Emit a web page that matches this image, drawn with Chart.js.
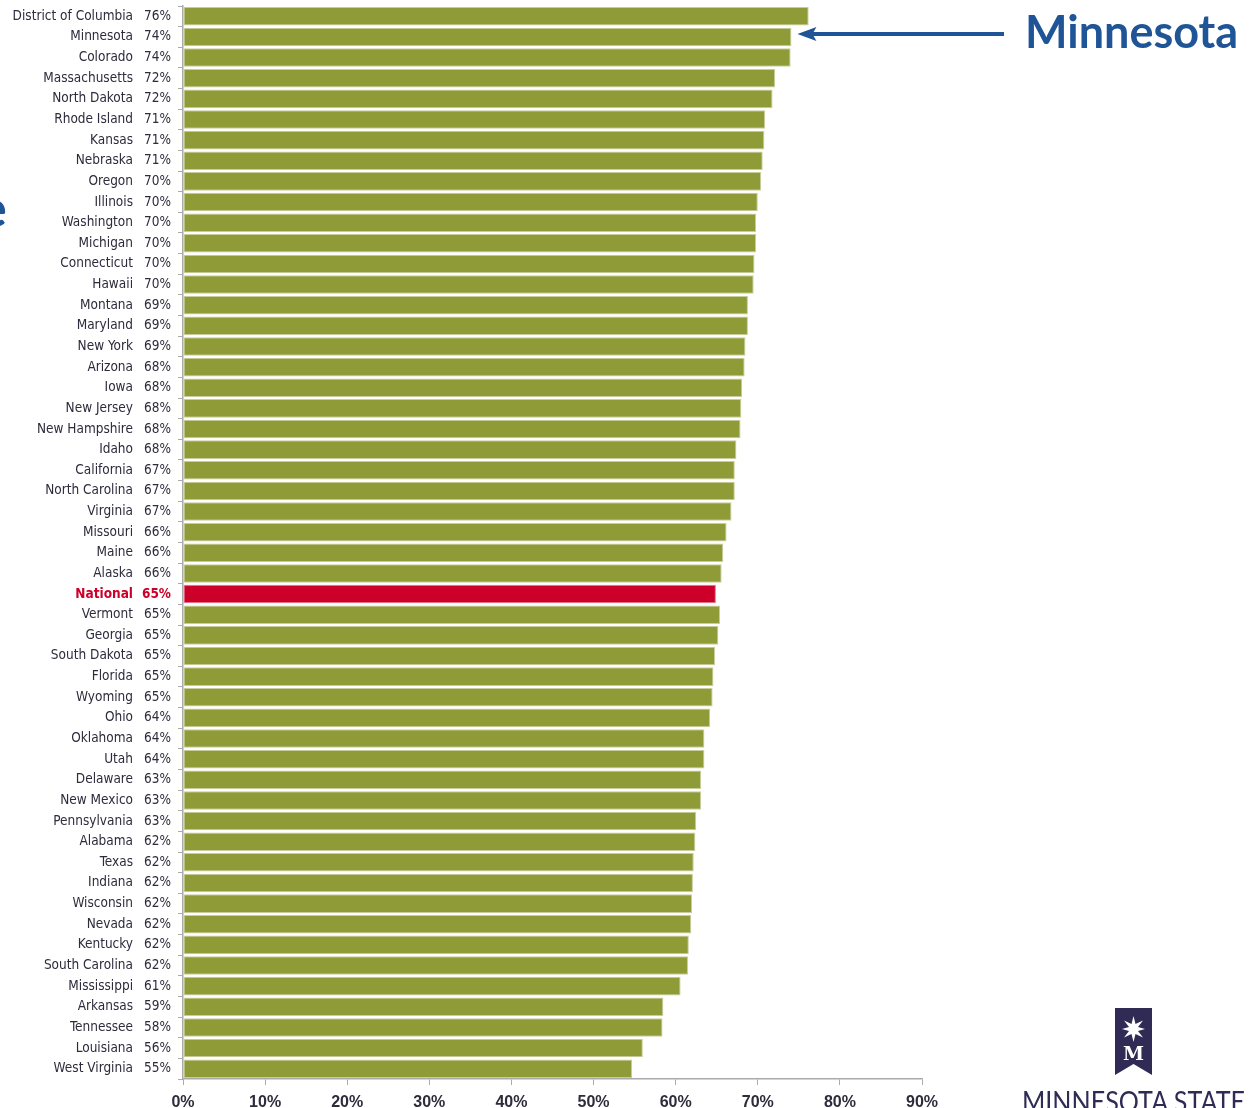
<!DOCTYPE html>
<html>
<head>
<meta charset="utf-8">
<script src="https://cdn.jsdelivr.net/npm/chart.js@4.4.1/dist/chart.umd.min.js"></script>
<style>
  html, body { margin: 0; padding: 0; background: #fff; overflow: hidden; }
  #wrap { position: relative; width: 1253px; height: 1108px; }
  #cut { position: absolute; left: -21px; top: 176px; font: bold 52px Lato, sans-serif; color: #1F5597; }
  #logo { position: absolute; left: 0; top: 0; }
</style>
</head>
<body>
<div id="wrap">
  <canvas id="rateChart"></canvas>
  <div id="cut">e</div>
  <svg id="logo" width="1253" height="1108">
    <polygon points="1115,1008 1152,1008 1152,1075 1133.5,1064 1115,1075" fill="#2f2b55"/>
    <polygon points="1133.5,1016 1135.5,1024 1143,1020.5 1138,1027 1145,1029 1138,1031 1143,1037.5 1135.5,1034 1133.5,1042 1131.5,1034 1124,1037.5 1129,1031 1122,1029 1129,1027 1124,1020.5 1131.5,1024" fill="#fff"/>
    <text x="1133.5" y="1060" text-anchor="middle" font-family="DejaVu Serif, serif" font-size="19" font-weight="bold" fill="#fff">M</text>
    <text x="1022" y="1112" textLength="223" lengthAdjust="spacingAndGlyphs" font-family="Lato, sans-serif" font-size="29" fill="#2f2b55">MINNESOTA STATE</text>
  </svg>
</div>
<script>
const states = ['District of Columbia', 'Minnesota', 'Colorado', 'Massachusetts', 'North Dakota', 'Rhode Island',
  'Kansas', 'Nebraska', 'Oregon', 'Illinois', 'Washington', 'Michigan', 'Connecticut', 'Hawaii', 'Montana',
  'Maryland', 'New York', 'Arizona', 'Iowa', 'New Jersey', 'New Hampshire', 'Idaho', 'California',
  'North Carolina', 'Virginia', 'Missouri', 'Maine', 'Alaska', 'National', 'Vermont', 'Georgia', 'South Dakota',
  'Florida', 'Wyoming', 'Ohio', 'Oklahoma', 'Utah', 'Delaware', 'New Mexico', 'Pennsylvania', 'Alabama', 'Texas',
  'Indiana', 'Wisconsin', 'Nevada', 'Kentucky', 'South Carolina', 'Mississippi', 'Arkansas', 'Tennessee',
  'Louisiana', 'West Virginia'];

const rates = [76.2, 74.1, 74.0, 72.1, 71.8, 70.9, 70.8, 70.6, 70.4, 70.0, 69.8, 69.8, 69.6, 69.5, 68.8,
  68.8, 68.5, 68.4, 68.1, 68.0, 67.9, 67.4, 67.2, 67.2, 66.8, 66.2, 65.8, 65.6, 64.9, 65.4, 65.2, 64.8,
  64.6, 64.5, 64.2, 63.5, 63.5, 63.1, 63.1, 62.5, 62.4, 62.2, 62.1, 62.0, 61.9, 61.6, 61.5, 60.6, 58.5, 58.4,
  56.0, 54.7];

const rateLabels = ['76%', '74%', '74%', '72%', '72%', '71%', '71%', '71%', '70%', '70%', '70%', '70%', '70%',
  '70%', '69%', '69%', '69%', '68%', '68%', '68%', '68%', '68%', '67%', '67%', '67%', '66%', '66%', '66%',
  '65%', '65%', '65%', '65%', '65%', '65%', '64%', '64%', '64%', '63%', '63%', '63%', '62%', '62%', '62%',
  '62%', '62%', '62%', '62%', '61%', '59%', '58%', '56%', '55%'];

const xTicks = [0, 10, 20, 30, 40, 50, 60, 70, 80, 90];

const highlight = 'National';
const callout = 'Minnesota';

const hi = states.indexOf(highlight);
const green = '#8f9b37';
const red = '#cc0029';
const textCol = '#2c2c3c';

const labelColor = ctx => ctx.index === hi ? red : textCol;
const labelFont = ctx => ({
  family: '"DejaVu Sans Condensed", "Liberation Sans", sans-serif',
  size: 13.5,
  weight: ctx.index === hi ? 'bold' : 'normal'
});

// keep the category axes from reserving half a label above the first row
const fixWidth = w => scale => {
  scale.width = w;
  scale.paddingTop = 0;
  scale.paddingBottom = 0;
};

// arrow + big label pointing at the callout state
const calloutPlugin = {
  id: 'callout',
  afterDatasetsDraw(chart) {
    const { ctx, scales: { x, y } } = chart;
    const i = states.indexOf(callout);
    const tipX = x.getPixelForValue(rates[i]) + 6;
    const yc = y.getPixelForValue(i) - 3;
    ctx.save();
    ctx.fillStyle = '#1F5597';
    ctx.strokeStyle = '#1F5597';
    ctx.lineWidth = 4;
    ctx.beginPath();
    ctx.moveTo(tipX + 14, yc);
    ctx.lineTo(1004, yc);
    ctx.stroke();
    ctx.beginPath();
    ctx.moveTo(tipX, yc);
    ctx.lineTo(tipX + 19, yc - 7);
    ctx.lineTo(tipX + 15, yc);
    ctx.lineTo(tipX + 19, yc + 7);
    ctx.closePath();
    ctx.fill();
    ctx.font = 'bold 45px Lato, sans-serif';
    ctx.textBaseline = 'alphabetic';
    ctx.fillText(callout, 1025, 48);
    ctx.restore();
  }
};

new Chart(document.getElementById('rateChart'), {
  type: 'bar',
  data: {
    labels: states,
    datasets: [{
      data: rates,
      backgroundColor: states.map((s, i) => i === hi ? red : green),
      borderColor: states.map((s, i) => i === hi ? '#e07a8c' : '#c9cd9c'),
      borderWidth: 1,
      borderSkipped: false,
      categoryPercentage: 1.0,
      barPercentage: 0.9
    }]
  },
  options: {
    indexAxis: 'y',
    responsive: true,
    maintainAspectRatio: false,
    animation: false,
    layout: { padding: { top: 6, right: 331, left: 0, bottom: 0 } },
    plugins: {
      legend: { display: false },
      tooltip: { enabled: false }
    },
    scales: {
      x: {
        min: 0,
        max: 90,
        afterBuildTicks: scale => { scale.ticks = xTicks.map(v => ({ value: v })); },
        afterFit: scale => { scale.height = 29; },
        grid: { drawOnChartArea: false, tickLength: 6, color: '#aaaaaa' },
        border: { color: '#aaaaaa', width: 1.5 },
        ticks: {
          padding: 8,
          color: textCol,
          font: { family: '"Liberation Sans", sans-serif', size: 16, weight: 'bold' },
          callback: v => v + '%'
        }
      },
      y: {
        position: 'left',
        weight: 2,
        afterFit: fixWidth(140),
        grid: { display: false, drawTicks: false },
        border: { display: false },
        ticks: { autoSkip: false, padding: 7, color: labelColor, font: labelFont }
      },
      yPct: {
        type: 'category',
        labels: rateLabels,
        position: 'left',
        weight: 1,
        offset: true,
        afterFit: fixWidth(43),
        grid: { offset: true, drawOnChartArea: false, tickLength: 5, color: '#aaaaaa' },
        border: { color: '#aaaaaa', width: 1.5 },
        ticks: { autoSkip: false, padding: 7, color: labelColor, font: labelFont }
      }
    }
  },
  plugins: [calloutPlugin]
});
</script>
</body>
</html>
